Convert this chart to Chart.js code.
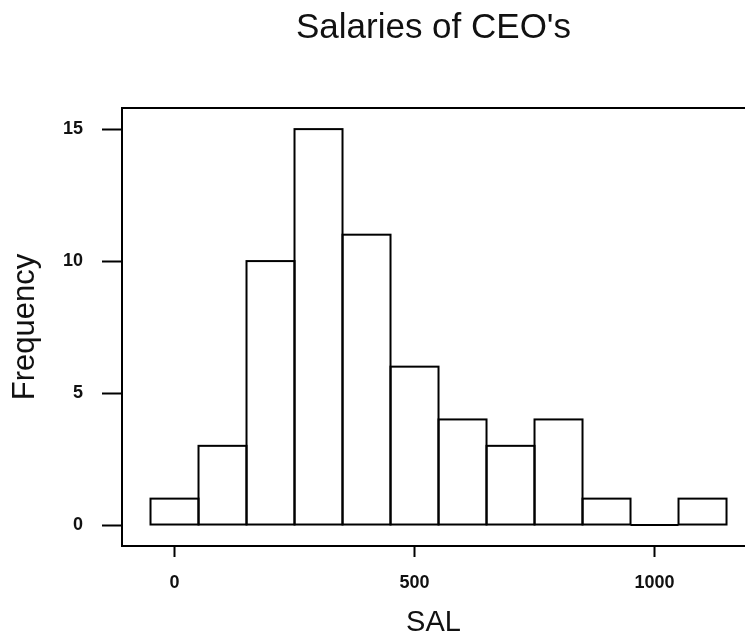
<!DOCTYPE html>
<html>
<head>
<meta charset="utf-8">
<script src="https://cdn.jsdelivr.net/npm/chart.js@4.4.0/dist/chart.umd.min.js"></script>
<style>
  html, body { margin: 0; padding: 0; background: #fff; overflow: hidden; }
  #wrap { width: 745px; height: 636px; }
</style>
</head>
<body>
<div id="wrap"><canvas id="histChart" width="745" height="636"></canvas></div>
<script>
// --- data ---
const chartTitle = "Salaries of CEO's";
const xLabel = 'SAL';
const yLabel = 'Frequency';
const binCenters = [0, 100, 200, 300, 400, 500, 600, 700, 800, 900, 1000, 1100];
const frequencies = [1, 3, 10, 15, 11, 6, 4, 3, 4, 1, 0, 1];
const xTicks = [0, 500, 1000];
const yTicks = [0, 5, 10, 15];

const FONT = '"Liberation Sans", Arial, sans-serif';

// R-style drawing: outlined bins, top frame line, title over the plot region
const histOutline = {
  id: 'histOutline',
  afterDatasetsDraw(chart) {
    const ctx = chart.ctx;
    const area = chart.chartArea;
    ctx.save();
    ctx.strokeStyle = '#000';
    ctx.lineWidth = 2;
    chart.getDatasetMeta(0).data.forEach(bar => {
      const p = bar.getProps(['x', 'y', 'base', 'width'], true);
      ctx.strokeRect(p.x - p.width / 2, p.y, p.width, p.base - p.y);
    });
    ctx.beginPath();
    ctx.moveTo(area.left - 1, area.top);
    ctx.lineTo(area.right, area.top);
    ctx.stroke();
    ctx.restore();
  },
  afterDraw(chart) {
    const ctx = chart.ctx;
    const area = chart.chartArea;
    ctx.save();
    ctx.fillStyle = '#111';
    ctx.font = '35px ' + FONT;
    ctx.textAlign = 'center';
    ctx.textBaseline = 'alphabetic';
    ctx.fillText(chartTitle, (area.left + area.right) / 2, 38);
    ctx.restore();
  }
};

new Chart(document.getElementById('histChart').getContext('2d'), {
  type: 'bar',
  data: {
    datasets: [{
      data: binCenters.map((c, i) => ({ x: c, y: frequencies[i] })),
      backgroundColor: '#fff',
      borderWidth: 0,
      barPercentage: 1,
      categoryPercentage: 1
    }]
  },
  options: {
    responsive: false,
    animation: false,
    devicePixelRatio: 1,
    layout: { padding: { top: 108, left: 0, right: 0, bottom: 0 } },
    plugins: {
      legend: { display: false },
      tooltip: { enabled: false }
    },
    scales: {
      x: {
        type: 'linear',
        offset: false,
        min: -109.4,
        max: 1188.5,
        afterFit: scale => { scale.height = 90; },
        afterBuildTicks: scale => { scale.ticks = xTicks.map(v => ({ value: v })); },
        border: { display: true, color: '#000', width: 2 },
        grid: {
          offset: false,
          drawOnChartArea: false,
          drawTicks: true,
          tickLength: 11,
          tickWidth: 2,
          tickColor: '#000'
        },
        ticks: {
          padding: 15,
          maxRotation: 0,
          color: '#111',
          font: { family: FONT, size: 18, weight: 'bold' },
          callback: value => String(value)
        },
        title: {
          display: true,
          text: xLabel,
          color: '#111',
          padding: 0,
          font: { family: FONT, size: 29, lineHeight: 0.93 }
        }
      },
      y: {
        min: -0.795,
        max: 15.8,
        afterFit: scale => { scale.width = 122; },
        afterBuildTicks: scale => { scale.ticks = yTicks.map(v => ({ value: v })); },
        border: { display: true, color: '#000', width: 2 },
        grid: {
          drawOnChartArea: false,
          drawTicks: true,
          tickLength: 20,
          tickWidth: 2,
          tickColor: '#000'
        },
        ticks: {
          padding: 19,
          color: '#111',
          font: { family: FONT, size: 18, weight: 'bold' },
          callback: value => String(value)
        },
        title: {
          display: true,
          text: yLabel,
          color: '#111',
          padding: { top: 7, bottom: 0 },
          font: { family: FONT, size: 31 }
        }
      }
    }
  },
  plugins: [histOutline]
});
</script>
</body>
</html>
